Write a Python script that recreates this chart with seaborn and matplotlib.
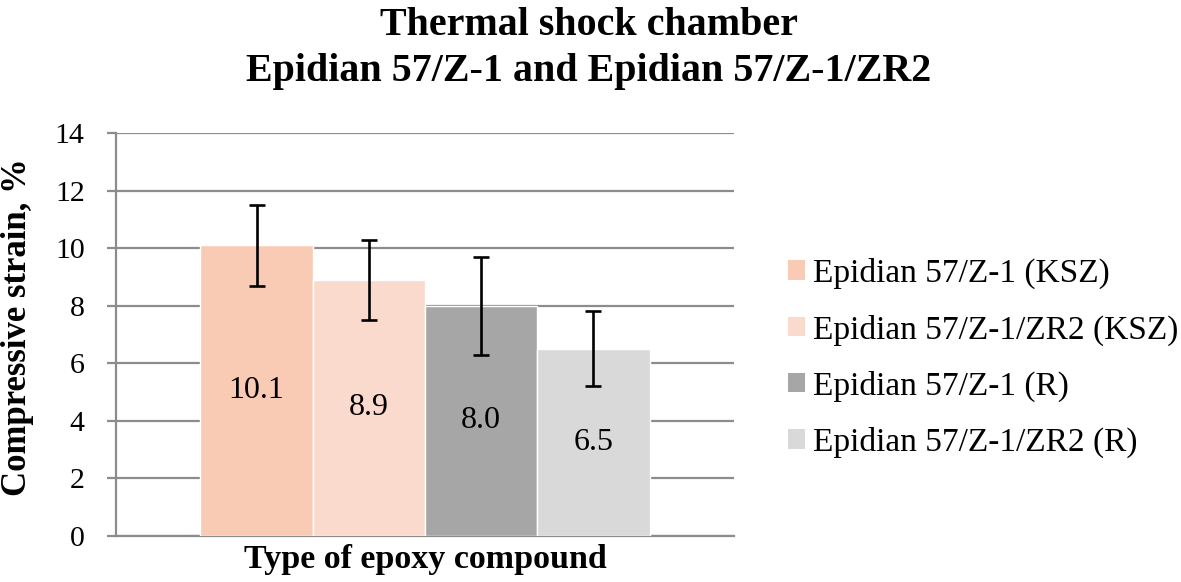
import matplotlib
matplotlib.use("Agg")
import matplotlib.pyplot as plt
import seaborn as sns
import pandas as pd
from matplotlib.patches import Patch

series = ["Epidian 57/Z-1 (KSZ)", "Epidian 57/Z-1/ZR2 (KSZ)",
          "Epidian 57/Z-1 (R)", "Epidian 57/Z-1/ZR2 (R)"]
values = [10.1, 8.9, 8.0, 6.5]
errors = [1.4, 1.4, 1.7, 1.3]
colors = ["#F9CBB5", "#FADACC", "#A6A6A6", "#D9D9D9"]
category = ["Type of epoxy compound"] * 4

sns.set_theme(style="white")
plt.rcParams['font.family'] = ['Liberation Serif', 'DejaVu Serif']
plt.rcParams['text.color'] = 'black'
plt.rcParams['axes.labelcolor'] = 'black'
plt.rcParams['ytick.labelcolor'] = 'black'

df = pd.DataFrame({"cat": category, "series": series, "value": values})

fig = plt.figure(figsize=(11.81, 5.82), dpi=100)
ax = fig.add_axes([116/1181, 1-536/582, (734-116)/1181, (536-133)/582])

sns.barplot(data=df, x="cat", y="value", hue="series", hue_order=series,
            palette=colors, width=0.727, errorbar=None, ax=ax, legend=False,
            saturation=1, zorder=3)

grid_c = "#8C8C8C"
ax.set_ylim(0, 14)
ax.set_yticks(range(0, 15, 2))
ax.set_xlim(-0.5, 0.5)
ax.yaxis.grid(True, color=grid_c, linewidth=1.6, zorder=0)
ax.set_axisbelow(True)
for s in ["top", "right"]:
    ax.spines[s].set_visible(False)
ax.spines["left"].set_color(grid_c)
ax.spines["left"].set_linewidth(1.6)
ax.spines["bottom"].set_color(grid_c)
ax.spines["bottom"].set_linewidth(1.6)
ax.tick_params(axis="y", left=True, length=6.5, width=1.6, color=grid_c,
               labelsize=21.5, pad=16, labelcolor="black")
ax.tick_params(axis="x", bottom=False, labelbottom=False)

bar_containers = list(ax.containers)
for i, cont in enumerate(bar_containers):
    ax.bar_label(cont, labels=[f"{values[i]:.1f}"], label_type="center",
                 fontsize=23, color="black")
    for p in cont.patches:
        ax.errorbar(p.get_x() + p.get_width()/2, values[i], yerr=errors[i],
                    fmt="none", ecolor="black", elinewidth=1.9, capsize=5.5,
                    capthick=1.9, zorder=5)

ax.set_xlabel("Type of epoxy compound", fontsize=24.5, fontweight="bold",
              labelpad=6, color="black")
ax.set_ylabel("Compressive strain, %", fontsize=25, fontweight="bold",
              color="black")
ax.yaxis.set_label_coords(-0.133, 0.519)

fig.suptitle("Thermal shock chamber\nEpidian 57/Z-1 and Epidian 57/Z-1/ZR2",
             fontsize=28.8, fontweight="bold", y=1 - 7/582, x=589/1181,
             va="top", linespacing=1.32, color="black")

handles = [Patch(facecolor=c, edgecolor="none") for c in colors]
fig.legend(handles, series, loc="center left", bbox_to_anchor=(788/1181, 1-358/582),
           frameon=False, fontsize=24, handlelength=0.52, handleheight=0.52,
           handletextpad=0.22, labelspacing=0.75, borderaxespad=0, borderpad=0)

fig.savefig("out.png", dpi=100)
